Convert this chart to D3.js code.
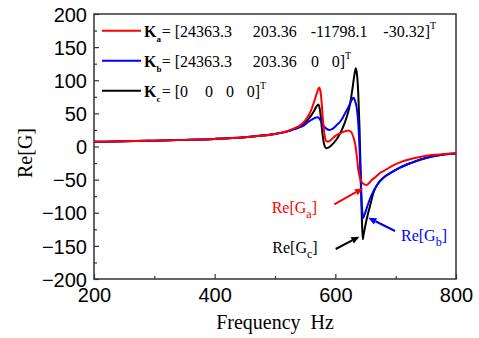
<!DOCTYPE html>
<html>
<head>
<meta charset="utf-8">
<script src="https://cdn.jsdelivr.net/npm/d3@7"></script>
<style>
  body { margin: 0; background: #fff; }
  svg { display: block; }
  .tick text { font-family: "Liberation Sans", Arial, sans-serif; font-size: 20px; fill: #000; }
</style>
</head>
<body>
<svg width="479" height="338"></svg>
<script>
// frequency axis values (Hz) and Re[G] for each case
var freqA = [200, 250, 300, 350, 400, 450, 480, 500, 520, 530, 540, 548, 555, 560, 565, 570, 573, 575, 577, 579, 581, 583, 586, 590, 595, 600, 610, 618, 622, 626, 630, 633, 636, 638, 641, 644, 648, 652, 656, 660, 668, 674, 680, 695, 707, 725, 740, 760, 780, 800];
var reGa  = [7, 7.8, 8.8, 10, 11.5, 14, 16.5, 19, 23, 26.5, 31, 37, 46, 55, 68, 82, 89, 85, 70, 45, 25, 13, 7.5, 8, 12, 16, 21, 23.5, 24, 22, 14, 3, -18, -35, -48, -54, -57, -58, -55, -51, -45, -40, -37, -29, -24, -19, -16, -13, -11.5, -10];

var freqB = [200, 250, 300, 350, 400, 450, 480, 500, 520, 530, 540, 548, 555, 560, 566, 571, 575, 580, 585, 590, 596, 602, 610, 616, 622, 627, 630, 633, 636, 638, 640, 642, 644, 646, 648, 652, 657, 663, 670, 680, 695, 707, 725, 740, 760, 780, 800];
var reGb  = [7, 7.8, 8.8, 10, 11.5, 14, 16.5, 19, 22.5, 25.5, 28.5, 32, 37, 40, 43, 44, 40, 32, 27, 25, 27, 32, 40, 50, 60, 70, 73.5, 68, 55, 35, 0, -50, -90, -108, -104, -93, -80, -68, -57, -47, -38, -32, -25, -20, -15, -12, -10.5];

var freqC = [200, 250, 300, 350, 400, 450, 480, 500, 520, 530, 540, 548, 555, 560, 565, 569, 572, 575, 578, 581, 585, 590, 597, 603, 608, 614, 619, 624, 628, 632, 634, 636, 638, 640, 642, 644, 645.5, 647, 650, 654, 658, 663, 670, 680, 695, 707, 725, 740, 760, 780, 800];
var reGc  = [7, 7.8, 8.8, 10, 11.5, 14, 16.5, 19, 22.8, 26, 30, 34, 41, 47, 54, 61, 63.5, 52, 25, 5, -2.5, -1, 5, 12, 20, 32, 45, 62, 85, 110, 118, 108, 80, 30, -40, -110, -140, -132, -118, -102, -88, -70, -57, -47, -38, -32, -25, -20, -15, -12, -10.5];

var xTicks = [200, 400, 600, 800];
var xMinor = [300, 500, 700];
var yTicks = [-200, -150, -100, -50, 0, 50, 100, 150, 200];
var yMinor = [-175, -125, -75, -25, 25, 75, 125, 175];

var serif = "'Liberation Serif', 'Times New Roman', 'DejaVu Serif', serif";

var svg = d3.select("svg");

var x = d3.scaleLinear().domain([200, 800]).range([94, 456]);
var y = d3.scaleLinear().domain([-200, 200]).range([279, 14]);

svg.append("defs").append("clipPath").attr("id", "plot")
  .append("rect").attr("x", 94).attr("y", 14).attr("width", 362).attr("height", 265);

// frame
svg.append("rect")
  .attr("x", 94).attr("y", 14).attr("width", 362).attr("height", 265)
  .attr("fill", "none").attr("stroke", "#333").attr("stroke-width", 1.5);

// axes with inward ticks
var xAxis = svg.append("g").attr("transform", "translate(0,279)")
  .call(d3.axisBottom(x).tickValues(xTicks).tickSize(-5).tickPadding(9));
var xAxisMinor = svg.append("g").attr("transform", "translate(0,279)")
  .call(d3.axisBottom(x).tickValues(xMinor).tickSize(-3).tickFormat(""));
var yAxis = svg.append("g").attr("transform", "translate(94,0)")
  .call(d3.axisLeft(y).tickValues(yTicks).tickSize(-5).tickPadding(7));
var yAxisMinor = svg.append("g").attr("transform", "translate(94,0)")
  .call(d3.axisLeft(y).tickValues(yMinor).tickSize(-3).tickFormat(""));

[xAxis, xAxisMinor, yAxis, yAxisMinor].forEach(function(a) {
  a.select(".domain").remove();
  a.selectAll("line").attr("stroke", "#333").attr("stroke-width", 1.2);
});
yAxis.selectAll("text").attr("dy", "0.36em");

// curves
var line = d3.line()
  .x(function(d) { return x(d[0]); })
  .y(function(d) { return y(d[1]); })
  .curve(d3.curveMonotoneX);

var series = [
  {f: freqC, v: reGc, color: "#000000"},
  {f: freqB, v: reGb, color: "#0000ff"},
  {f: freqA, v: reGa, color: "#ff0000"}
];

var g = svg.append("g").attr("clip-path", "url(#plot)");
series.forEach(function(s) {
  g.append("path")
    .datum(d3.zip(s.f, s.v))
    .attr("d", line)
    .attr("fill", "none")
    .attr("stroke", s.color)
    .attr("stroke-width", 2);
});

// legend
var legend = [
  {color: "#ff0000", sub: "a", base: 36.7, parts: [["= [24363.3", 161.7], ["203.36", 252.7], ["-11798.1", 310.7], ["-30.32]", 383.3]]},
  {color: "#0000ff", sub: "b", base: 66.7, parts: [["= [24363.3", 161.7], ["203.36", 252.7], ["0", 311], ["0]", 331.7]]},
  {color: "#000000", sub: "c", base: 96.7, parts: [["= [0", 161.7], ["0", 205], ["0", 226], ["0]", 246.7]]}
];

legend.forEach(function(l) {
  svg.append("line")
    .attr("x1", 102).attr("x2", 141)
    .attr("y1", l.base - 6).attr("y2", l.base - 6)
    .attr("stroke", l.color).attr("stroke-width", 2);
  var t = svg.append("text").attr("font-family", serif).attr("y", l.base)
    .attr("font-size", 16).attr("fill", "#000");
  t.append("tspan").attr("x", 144).attr("font-weight", "bold").text("K");
  t.append("tspan").attr("dy", 5).attr("font-size", 9).attr("font-weight", "bold").text(l.sub);
  l.parts.forEach(function(p, i) {
    var ts = t.append("tspan").attr("x", p[1]).text(p[0]);
    if (i === 0) ts.attr("dy", -5);
  });
  t.append("tspan").attr("dy", -8).attr("font-size", 10).text("T");
});

// annotations
var notes = [
  {color: "#ff0000", sub: "a", tx: 271.7, ty: 213.3, a: [334.3, 204.3, 363, 188.3]},
  {color: "#0000ff", sub: "b", tx: 401, ty: 241, a: [395, 231, 368.3, 217.7]},
  {color: "#000000", sub: "c", tx: 272.3, ty: 253.3, a: [335.7, 249, 359.3, 236.7]}
];

notes.forEach(function(n) {
  var t = svg.append("text").attr("font-family", serif)
    .attr("x", n.tx).attr("y", n.ty).attr("font-size", 16).attr("fill", n.color);
  t.append("tspan").text("Re[G");
  t.append("tspan").attr("dy", 5).attr("font-size", 12).text(n.sub);
  t.append("tspan").attr("dy", -5).text("]");

  var x1 = n.a[0], y1 = n.a[1], x2 = n.a[2], y2 = n.a[3];
  var ang = Math.atan2(y2 - y1, x2 - x1);
  var len = 8, wid = 3.5;
  var bx = x2 - len * Math.cos(ang), by = y2 - len * Math.sin(ang);
  svg.append("line")
    .attr("x1", x1).attr("y1", y1).attr("x2", bx).attr("y2", by)
    .attr("stroke", n.color).attr("stroke-width", 2);
  svg.append("path")
    .attr("d", "M" + x2 + "," + y2 +
      "L" + (bx + wid * Math.sin(ang)) + "," + (by - wid * Math.cos(ang)) +
      "L" + (bx - wid * Math.sin(ang)) + "," + (by + wid * Math.cos(ang)) + "Z")
    .attr("fill", n.color);
});

// axis titles
svg.append("text").attr("font-family", serif)
  .attr("x", 275).attr("y", 329)
  .attr("text-anchor", "middle").attr("font-size", 20)
  .attr("xml:space", "preserve")
  .text("Frequency  Hz");

svg.append("text").attr("font-family", serif)
  .attr("transform", "translate(32,153) rotate(-90)")
  .attr("text-anchor", "middle").attr("font-size", 20)
  .text("Re[G]");
</script>
</body>
</html>
